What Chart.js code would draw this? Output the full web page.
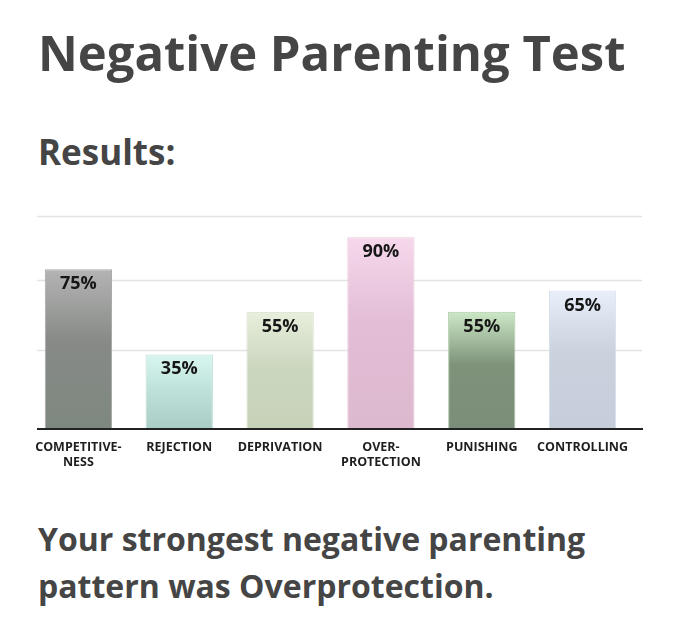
<!DOCTYPE html>
<html>
<head>
<meta charset="utf-8">
<script src="https://cdn.jsdelivr.net/npm/chart.js@4"></script>
<style>
  body { margin: 0; background: #fff; width: 680px; height: 626px; overflow: hidden; position: relative; }
  .txt { position: absolute; left: 38px; font-family: 'Open Sans', sans-serif; font-weight: 700; color: #454545; white-space: nowrap; }
  #title { top: 28px; font-size: 49px; line-height: 49px; }
  #sub { top: 134px; font-size: 35px; line-height: 35px; }
  #verdict { top: 515px; font-size: 32px; line-height: 47px; }
  #chartBox { position: absolute; left: 0; top: 200px; }
</style>
</head>
<body>
<div class="txt" id="title">Negative Parenting Test</div>
<div class="txt" id="sub">Results:</div>
<div id="chartBox"><canvas id="chart" width="680" height="280"></canvas></div>
<div class="txt" id="verdict">Your strongest negative parenting<br>pattern was Overprotection.</div>

<script>
// parenting test results

const categories = [
    ['COMPETITIVE-', 'NESS'],
    'REJECTION',
    'DEPRIVATION',
    ['OVER-', 'PROTECTION'],
    'PUNISHING',
    'CONTROLLING'
];
const scores = [75, 35, 55, 90, 55, 65];

// the faint horizontal rules behind the bars
const gridValues = [37, 70, 100];

// bar gradient colours (top, middle, bottom)
const gradTop = ['#b4b4b4', '#d8f6f0', '#e8efdc', '#f6d8ec', '#cce8c6', '#e8eefa'];
const gradMid = ['#878a87', '#bfe3db', '#ccd7c0', '#e2bdd5', '#7f937b', '#cad2de'];
const gradBottom = ['#7e8880', '#a9cdc5', '#c6d2b8', '#ddb9cf', '#7b8e79', '#c6cedb'];
const borderColors = ['#a8a8a8', '#bcdcd5', '#d4ddc8', '#eac8dc', '#a9c8a4', '#d6deea'];

const FONT = "'Open Sans', sans-serif";

// rules + baseline drawn across the page width, not just the bar area
const rulesPlugin = {
    id: 'rules',
    beforeDatasetsDraw(chart) {
        const ctx = chart.ctx;
        const y = chart.scales.y;
        ctx.save();
        ctx.strokeStyle = '#e3e3e3';
        ctx.lineWidth = 1.5;
        gridValues.forEach(v => {
            const py = Math.round(y.getPixelForValue(v)) + 0.5;
            ctx.beginPath();
            ctx.moveTo(37, py);
            ctx.lineTo(642, py);
            ctx.stroke();
        });
        ctx.restore();
    },
    afterDatasetsDraw(chart) {
        const ctx = chart.ctx;
        const y = chart.scales.y;
        const py = y.getPixelForValue(0);
        ctx.save();
        ctx.strokeStyle = '#222';
        ctx.lineWidth = 2;
        ctx.beginPath();
        ctx.moveTo(37, py);
        ctx.lineTo(643, py);
        ctx.stroke();

        // percent labels inside the top of each bar
        const meta = chart.getDatasetMeta(0);
        ctx.fillStyle = '#161616';
        ctx.font = `700 18px ${FONT}`;
        ctx.textAlign = 'center';
        ctx.textBaseline = 'alphabetic';
        meta.data.forEach((bar, i) => {
            ctx.fillText(scores[i] + '%', bar.x, bar.y + 20);
        });
        ctx.restore();
    }
};

function barGradient(context) {
    const chart = context.chart;
    const i = context.dataIndex;
    if (!chart.chartArea) return gradMid[i];
    const y = chart.scales.y;
    const top = y.getPixelForValue(context.raw);
    const bottom = y.getPixelForValue(0);
    const g = chart.ctx.createLinearGradient(0, top, 0, bottom);
    g.addColorStop(0, gradTop[i]);
    g.addColorStop(0.45, gradMid[i]);
    g.addColorStop(1, gradBottom[i]);
    return g;
}

const ctx = document.getElementById('chart').getContext('2d');
new Chart(ctx, {
    type: 'bar',
    data: {
        labels: categories,
        datasets: [{
            data: scores,
            backgroundColor: barGradient,
            borderColor: borderColors,
            borderWidth: 1,
            borderSkipped: 'bottom',
            barPercentage: 0.667,
            categoryPercentage: 1
        }]
    },
    options: {
        responsive: false,
        animation: false,
        layout: {
            padding: { left: 28, right: 47, top: 16, bottom: 0 }
        },
        plugins: {
            legend: { display: false },
            tooltip: { enabled: false }
        },
        scales: {
            x: {
                grid: { display: false },
                border: { display: false },
                ticks: {
                    color: '#1e1e1e',
                    padding: 3,
                    maxRotation: 0,
                    autoSkip: false,
                    font: { family: FONT, weight: 700, size: 12.5, lineHeight: 1.2 }
                },
                // keep the bar area fixed: no label overhang padding, fixed axis height
                afterFit(scale) {
                    scale.paddingLeft = 0;
                    scale.paddingRight = 0;
                    scale.height = 51;
                }
            },
            y: {
                display: false,
                min: 0,
                max: 100
            }
        }
    },
    plugins: [rulesPlugin]
});
</script>
</body>
</html>
